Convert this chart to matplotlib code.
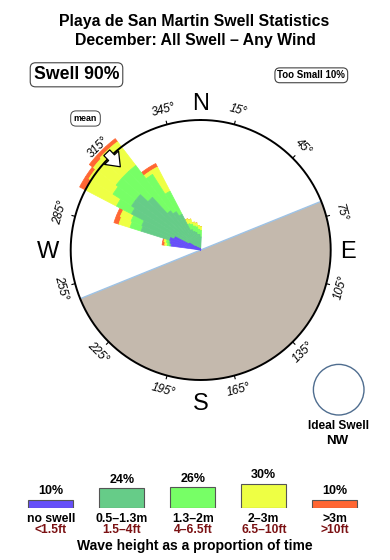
import numpy as np
import matplotlib
matplotlib.use('Agg')
import matplotlib.pyplot as plt
from matplotlib.patches import Ellipse

plt.rcParams['font.family'] = ['Liberation Sans', 'DejaVu Sans']

# ---------------- data ----------------
title_lines = ["Playa de San Martin Swell Statistics", "December: All Swell \u2013 Any Wind"]
swell_pct = 90
too_small_pct = 10

# direction bins (compass bearing, degrees) and stacked band lengths
# (units: percent of the outer circle radius)
directions = [280, 285, 290, 295, 300, 305, 310, 315, 320, 325, 330, 335, 340, 345, 350, 355, 360]
no_swell   = [23, 24, 25, 22, 10,  5,  3,  2,  2,  1,  1,  1,  1,  1,  1,  1,  1]
h_05_13    = [ 1,  1, 23, 27, 50, 58, 60, 53, 36, 34, 30, 16, 14, 13, 11, 11,  9]
h_13_2     = [ 2,  2,  9,  9, 13, 17, 19, 27, 44, 34, 20,  5,  6,  5,  6,  4,  5]
h_2_3      = [ 2,  2,  9,  9, 27, 22, 22, 23, 23,  3, 21,  4,  4,  3,  3,  3,  3]
h_gt3      = [ 2,  1,  4,  3,  5,  3,  4,  3,  3,  3,  3,  0,  0,  0,  0,  0,  0]
bands = [no_swell, h_05_13, h_13_2, h_2_3, h_gt3]

band_names = ["no swell", "0.5\u20131.3m", "1.3\u20132m", "2\u20133m", ">3m"]
band_feet = ["<1.5ft", "1.5\u20134ft", "4\u20136.5ft", "6.5\u201310ft", ">10ft"]
band_pct = [10, 24, 26, 30, 10]
band_colors = ["#6650F8", "#66CC88", "#77FF66", "#EEFF44", "#FF6633"]

tick_bearings = [15, 45, 75, 105, 135, 165, 195, 225, 255, 285, 315, 345]
cardinals = ["N", "E", "S", "W"]
cardinal_bearings = [0, 90, 180, 270]
coast_bearing = 68          # shoreline runs 68 -> 248 deg, land to the SE
mean_direction = 316
ideal_swell = "NW"

# ---------------- figure ----------------
W, H = 390, 560
fig = plt.figure(figsize=(W / 100, H / 100), dpi=100)


def fx(x):
    return x / W


def fy(y):
    return 1 - y / H


cx, cy = 200.7, 250.0        # rose centre (px)
circle_r = 100.0             # data radius of the outer circle
px_per_unit = 1.3
half = 150.0
ax = fig.add_axes([fx(cx - half), fy(cy + half), 2 * half / W, 2 * half / H], projection='polar')
ax.set_theta_zero_location('N')
ax.set_theta_direction(-1)
ax.set_ylim(0, half / px_per_unit)
ax.axis('off')

# land (half disc)
arc = np.deg2rad(np.linspace(coast_bearing, coast_bearing + 180, 300))
ax.fill(np.r_[arc, arc[-1]], np.r_[np.full(arc.size, circle_r), 0], color="#C4B9AD", lw=0, zorder=1)
for b in (coast_bearing, coast_bearing + 180):
    ax.plot([np.deg2rad(b)] * 2, [0, circle_r], color="#9EC3E6", lw=1.0, zorder=1.5)

# stacked rose bars
theta = np.deg2rad(directions)
bottom = np.zeros(len(directions))
for k, (vals, col) in enumerate(zip(bands, band_colors)):
    vals = np.asarray(vals, float)
    ax.bar(theta, vals, width=np.deg2rad(5), bottom=bottom, color=col,
           edgecolor=col, linewidth=0.5, align='center', zorder=2 + 0.1 * (5 - k))
    bottom += vals

# outer circle and ticks
full = np.linspace(0, 2 * np.pi, 721)
ax.plot(full, np.full(full.size, circle_r), color='black', lw=1.4, zorder=4)
for b in tick_bearings:
    ax.plot([np.deg2rad(b)] * 2, [circle_r, circle_r + 2.5], color='black', lw=0.8, zorder=4)
    rot = (-b + 180) % 360 - 180
    if rot < -90:
        rot += 180
    elif rot > 90:
        rot -= 180
    ax.text(np.deg2rad(b), 111.5, f"{b}\u00b0", rotation=rot, rotation_mode='anchor',
            ha='center', va='center', fontsize=8.5, style='italic', zorder=5)

card_r = [114, 113.3, 116.7, 117.5]
for lab, b, r in zip(cardinals, cardinal_bearings, card_r):
    ax.text(np.deg2rad(b), r, lab, ha='center', va='center_baseline', fontsize=17, zorder=5)

# mean direction arrow
ax.annotate('', xy=(np.deg2rad(mean_direction), 89), xytext=(np.deg2rad(mean_direction), 104),
            arrowprops=dict(arrowstyle='simple,head_length=0.65,head_width=1.0,tail_width=0.42',
                            fc='white', ec='black', lw=0.9, mutation_scale=14,
                            shrinkA=0, shrinkB=0), zorder=6)

# ---------------- texts ----------------
fig.text(fx(194.5), fy(26), title_lines[0], ha='center', va='baseline', fontsize=11.4, fontweight='bold')
fig.text(fx(195), fy(45), title_lines[1], ha='center', va='baseline', fontsize=11.4, fontweight='bold')

fig.text(fx(76.5), fy(79.3), f"Swell {swell_pct}%", ha='center', va='baseline', fontsize=12.7,
         fontweight='bold',
         bbox=dict(boxstyle='round,pad=0.2,rounding_size=0.3', fc='white', ec='#444444', lw=0.8))
fig.text(fx(311.3), fy(78.3), f"Too Small {too_small_pct}%", ha='center', va='baseline', fontsize=7,
         fontweight='bold',
         bbox=dict(boxstyle='round,pad=0.25,rounding_size=0.5', fc='white', ec='#444444', lw=0.8))
fig.text(fx(85.5), fy(118.5), "mean", ha='center', va='center', fontsize=6.4, fontweight='bold',
         bbox=dict(boxstyle='round,pad=0.35,rounding_size=0.6', fc='white', ec='#444444', lw=0.7))

# ideal swell circle
fig.add_artist(Ellipse((fx(338.7), fy(389.7)), 2 * 25.3 / W, 2 * 25.3 / H,
                       transform=fig.transFigure, fc='white', ec='#4F6D8F', lw=1.0))
fig.text(fx(338.5), fy(429.3), "Ideal Swell", ha='center', va='baseline', fontsize=8.6, fontweight='bold')
fig.text(fx(337.5), fy(444), ideal_swell, ha='center', va='baseline', fontsize=9.5, fontweight='bold')

# ---------------- legend ----------------
leg_bottom = 507.5
px_per_pct = 0.8
step = 71.0
first = 50.8
lax = fig.add_axes([fx(first - step / 2), fy(leg_bottom), 5 * step / W, 40 * px_per_pct / H])
lax.set_xlim(-0.5, 4.5)
lax.set_ylim(0, 40)
lax.axis('off')
xs = np.arange(len(band_pct))
lax.bar(xs, band_pct, width=45 / step, color=band_colors, edgecolor='#555555', linewidth=0.8)
for i, (p, n, f) in enumerate(zip(band_pct, band_names, band_feet)):
    lax.annotate(f"{p}%", (i, p), xytext=(0, 5), textcoords='offset pixels',
                 ha='center', va='baseline', fontsize=9, fontweight='bold', annotation_clip=False)
    lax.annotate(n, (i, 0), xytext=(0, -14.2), textcoords='offset pixels',
                 ha='center', va='baseline', fontsize=8.8, fontweight='bold', annotation_clip=False)
    lax.annotate(f, (i, 0), xytext=(0, -25.8), textcoords='offset pixels',
                 ha='center', va='baseline', fontsize=8.7, fontweight='bold', color='#7B1113',
                 annotation_clip=False)
fig.text(fx(194.5), fy(550), "Wave height as a proportion of time", ha='center', va='baseline',
         fontsize=10, fontweight='bold')

fig.savefig('out.png', dpi=100)
